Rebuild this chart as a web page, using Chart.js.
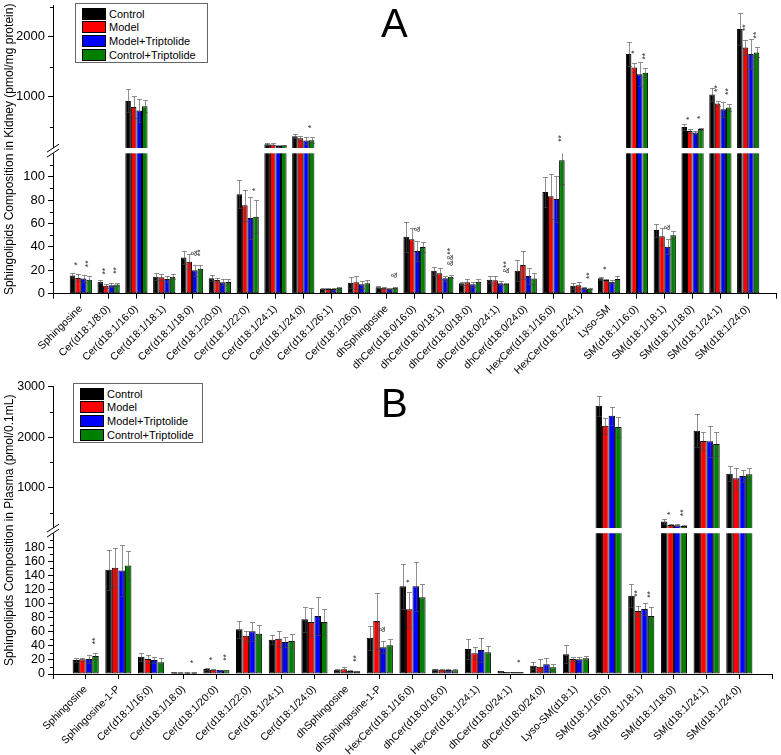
<!DOCTYPE html>
<html>
<head>
<meta charset="utf-8">
<script src="https://cdn.jsdelivr.net/npm/chart.js@4.4.0/dist/chart.umd.min.js"></script>
<style>
  body { margin: 0; background: #fff; font-family: Arial, "Liberation Sans", sans-serif; }
  #page { position: relative; width: 781px; height: 755px; overflow: hidden; }
  canvas { position: absolute; left: 0; }
  #chartA { top: 0; }
  #chartB { top: 375px; }
  .letter { position: absolute; font-size: 40px; line-height: 40px; color: #000; }
  .legend { position: absolute; border: 1px solid #666; background: #fff; box-sizing: border-box; }
  .legend .row { position: absolute; height: 13px; font-size: 11px; line-height: 13px; white-space: nowrap; color: #000; }
  .legend .sw { position: absolute; top: 0; left: 0; width: 24px; height: 12px; border: 1px solid #000; box-sizing: border-box; }
  .legend .txt { position: absolute; top: 0; }
</style>
</head>
<body>
<div id="page">
  <canvas id="chartA" width="781" height="375"></canvas>
  <canvas id="chartB" width="781" height="380"></canvas>
  <div class="letter" style="left:381px;top:3px">A</div>
  <div class="letter" style="left:381px;top:383px">B</div>
  <div class="legend" id="legendA" style="left:75px;top:3px;width:133px;height:60px"></div>
  <div class="legend" id="legendB" style="left:73px;top:383px;width:130px;height:60px"></div>
</div>
<script>
const seriesNames = ['Control', 'Model', 'Model+Triptolide', 'Control+Triptolide'];
const seriesColors = ['#000000', '#ff0000', '#0000ff', '#008000'];

// ---- panel A : kidney (pmol/mg protein)
const categoriesA = ['Sphingosine', 'Cer(d18:1/8:0)', 'Cer(d18:1/16:0)', 'Cer(d18:1/18:1)', 'Cer(d18:1/18:0)',
  'Cer(d18:1/20:0)', 'Cer(d18:1/22:0)', 'Cer(d18:1/24:1)', 'Cer(d18:1/24:0)', 'Cer(d18:1/26:1)', 'Cer(d18:1/26:0)',
  'dhSphingosine', 'dhCer(d18:0/16:0)', 'dhCer(d18:0/18:1)', 'dhCer(d18:0/18:0)', 'dhCer(d18:0/24:1)',
  'dhCer(d18:0/24:0)', 'HexCer(d18:1/16:0)', 'HexCer(d18:1/24:1)', 'Lyso-SM', 'SM(d18:1/16:0)',
  'SM(d18:1/18:1)', 'SM(d18:1/18:0)', 'SM(d18:1/24:1)', 'SM(d18:1/24:0)'];
const controlA     = [15.5, 10.3, 933, 14.5, 31, 13.1, 85, 212, 345, 4.3, 9.4, 5.5, 48.7, 19.7, 8.9, 12, 19.7, 87, 6.9, 13.1, 1712, 54.4, 500, 1039, 2128];
const modelA       = [13.5, 6.9, 833, 14, 27.4, 11.7, 75.5, 210, 312, 4, 9.7, 5, 46.5, 17.4, 9.7, 11.4, 24.5, 83.2, 7.2, 11.7, 1490, 49, 433, 889, 1823];
const modelTripA   = [13, 7.2, 773, 12.5, 20, 9.7, 64.7, 185, 273, 4, 8, 4.3, 36.5, 13.1, 8, 9, 15.1, 81, 5, 10.3, 1378, 40.2, 407, 795, 1712];
const controlTripA = [12, 7.8, 845, 14.5, 21.4, 10, 65.8, 195, 278, 5, 9, 5, 40, 14.5, 10.3, 8.5, 13, 114, 4.3, 12.5, 1400, 50, 467, 823, 1740];
const controlErrA     = [2.5, 1.2, 190, 3, 5.5, 2.6, 12, 20, 33, 0.7, 4.6, 0.8, 13, 3.3, 1.5, 3, 8.8, 12.5, 2.6, 1, 205, 5.6, 56, 111, 262];
const modelErrA       = [3, 1.8, 180, 2.5, 6.3, 2, 13.5, 15, 38, 0.7, 5.4, 0.6, 10, 4.6, 2.6, 4.1, 12, 19, 3.1, 1, 77, 7, 34, 44, 122];
const modelTripErrA   = [3, 1.8, 190, 2.5, 4.5, 2.5, 18, 12, 60, 0.7, 3, 0.7, 8.5, 2, 2, 1.5, 6.9, 20, 0.8, 1.5, 195, 6.3, 25, 122, 244];
const controlTripErrA = [3, 1.6, 100, 2, 3, 2.3, 14, 12, 50, 0.6, 2.4, 0.8, 4, 1.5, 2, 1, 5, 20, 0.5, 2.5, 73, 3.6, 16, 60, 83];
const yMajorA = [0, 20, 40, 60, 80, 100, 1000, 2000];
const yMinorA = [10, 30, 50, 70, 90, 110, 500, 1500, 2500];
const notesA = [
  ['Sphingosine', 1, '*'], ['Sphingosine', 3, '**'], ['Cer(d18:1/8:0)', 1, '**'], ['Cer(d18:1/8:0)', 3, '**'],
  ['Cer(d18:1/18:0)', 2, '&'], ['Cer(d18:1/18:0)', 3, '**'], ['Cer(d18:1/22:0)', 3, '*'], ['Cer(d18:1/24:0)', 3, '*'],
  ['dhSphingosine', 3, '&'], ['dhCer(d18:0/16:0)', 2, '&'], ['dhCer(d18:0/18:1)', 3, '&&**'],
  ['dhCer(d18:0/24:1)', 3, '&**'], ['HexCer(d18:1/16:0)', 3, '**'], ['HexCer(d18:1/24:1)', 3, '**'],
  ['Lyso-SM', 1, '*'], ['SM(d18:1/16:0)', 1, '*'], ['SM(d18:1/16:0)', 3, '**'], ['SM(d18:1/18:1)', 2, '&'],
  ['SM(d18:1/18:0)', 1, '*'], ['SM(d18:1/18:0)', 3, '*'], ['SM(d18:1/24:1)', 1, '**'], ['SM(d18:1/24:1)', 3, '**'],
  ['SM(d18:1/24:0)', 1, '**'], ['SM(d18:1/24:0)', 3, '**']
];

// ---- panel B : plasma (pmol/0.1mL)
const categoriesB = ['Sphingosine', 'Sphingosine-1-P', 'Cer(d18:1/16:0)', 'Cer(d18:1/18:0)', 'Cer(d18:1/20:0)',
  'Cer(d18:1/22:0)', 'Cer(d18:1/24:1)', 'Cer(d18:1/24:0)', 'dhSphingosine', 'dhSphingosine-1-P',
  'HexCer(d18:1/16:0)', 'dhCer(d18:0/16:0)', 'HexCer(d18:1/24:1)', 'dhCer(d18:0/24:1)', 'dhCer(d18:0/24:0)',
  'Lyso-SM(d18:1)', 'SM(d18:1/16:0)', 'SM(d18:1/18:1)', 'SM(d18:1/18:0)', 'SM(d18:1/24:1)', 'SM(d18:1/24:0)'];
const controlB     = [19.9, 148, 24.6, 2.5, 7.1, 63.4, 48.8, 77.7, 6.2, 51.6, 124.5, 6.6, 35.5, 4.3, 11.8, 27.9, 2624, 111.3, 327, 2129, 1277];
const modelB       = [20.8, 151, 21.3, 2.3, 6.2, 54.5, 50.2, 73.9, 6.6, 75.3, 91.9, 6.2, 29.4, 2.8, 10.4, 21.3, 2228, 89.5, 261, 1925, 1186];
const modelTripB   = [21.3, 147, 19.9, 2.2, 5.7, 60.6, 45.5, 82.4, 4.3, 37.9, 124.5, 5.7, 34.1, 2.8, 13.7, 20.8, 2426, 92.3, 255, 1919, 1232];
const controlTripB = [25.6, 154, 16.6, 2, 5.5, 57.3, 46.9, 73.9, 3.8, 40.7, 108.9, 5.2, 30.8, 2.8, 9.5, 22.3, 2202, 82.4, 242, 1865, 1265];
const controlErrB     = [2.4, 28, 5.7, 0.6, 0.8, 11.9, 6.2, 17.9, 1, 17.1, 31.8, 1, 13.7, 0.5, 5.2, 12.8, 198, 16.1, 53, 324, 153];
const modelErrB       = [2.4, 28, 5.7, 0.5, 0.6, 7, 11.3, 20.3, 3.8, 39.3, 25.1, 1, 8.5, 0.5, 11.4, 3.3, 158, 7.5, 17, 184, 210];
const modelTripErrB   = [5.7, 36, 4.7, 0.4, 0.6, 13.3, 6.5, 27.6, 1, 8.5, 35.1, 0.8, 17.5, 0.5, 8.6, 3.8, 178, 8.1, 15, 309, 113];
const controlTripErrB = [3.8, 21, 5.7, 0.4, 0.5, 11.8, 9.4, 18, 0.8, 8.5, 18.5, 1.8, 8.5, 0.5, 4.2, 2.8, 204, 13.2, 15, 244, 131];
const yMajorB = [0, 20, 40, 60, 80, 100, 120, 140, 160, 180, 1000, 2000, 3000];
const yMinorB = [10, 30, 50, 70, 90, 110, 130, 150, 170, 190, 500, 1500, 2500];
const notesB = [
  ['Sphingosine', 3, '**'], ['Cer(d18:1/18:0)', 3, '*'], ['Cer(d18:1/20:0)', 1, '*'], ['Cer(d18:1/20:0)', 3, '**'],
  ['dhSphingosine', 3, '**'], ['dhSphingosine-1-P', 2, '&'], ['HexCer(d18:1/16:0)', 1, '*'],
  ['dhCer(d18:0/24:1)', 3, '*'], ['SM(d18:1/18:1)', 1, '**'], ['SM(d18:1/18:1)', 3, '**'],
  ['SM(d18:1/18:0)', 1, '*'], ['SM(d18:1/18:0)', 3, '**']
];

// broken axis settings: lower part 0..lowMax, upper part upMin..upMax
const breaks = {
  chartA: { lowMax: 120, upMin: 150, upMax: 2528, split: 0.4863, gap: 5.3 },
  chartB: { lowMax: 200, upMin: 200, upMax: 3000, split: 0.490, gap: 5.2 }
};

Chart.defaults.font.family = 'Arial, "Liberation Sans", sans-serif';
Chart.defaults.color = '#000';

class BrokenScale extends Chart.LinearScale {
  _brk() {
    const b = breaks[this.chart.canvas.id];
    const lowTop = this.bottom - (this.bottom - this.top) * b.split;
    return { b, lowTop, upBottom: lowTop - b.gap };
  }
  getPixelForValue(v) {
    if (v === null || v === undefined || isNaN(v)) return NaN;
    const { b, lowTop, upBottom } = this._brk();
    if (v <= b.lowMax) return this.bottom - v / b.lowMax * (this.bottom - lowTop);
    if (v >= b.upMin) return upBottom - (v - b.upMin) / (b.upMax - b.upMin) * (upBottom - this.top);
    return lowTop - (v - b.lowMax) / (b.upMin - b.lowMax) * (lowTop - upBottom);
  }
  getValueForPixel(p) {
    const { b, lowTop, upBottom } = this._brk();
    if (p >= lowTop) return (this.bottom - p) / (this.bottom - lowTop) * b.lowMax;
    if (p <= upBottom) return b.upMin + (upBottom - p) / (upBottom - this.top) * (b.upMax - b.upMin);
    return b.lowMax;
  }
}
BrokenScale.id = 'broken';
BrokenScale.defaults = Chart.LinearScale.defaults;
Chart.register(BrokenScale);

const extras = {};

const decoPlugin = {
  id: 'deco',
  afterDatasetsDraw(chart) {
    const ex = extras[chart.canvas.id];
    const ctx = chart.ctx;
    const ys = chart.scales.y;
    const area = chart.chartArea;

    // error bars
    ctx.save();
    ctx.beginPath();
    ctx.rect(area.left, area.top - 2, area.right - area.left, area.bottom - area.top + 2);
    ctx.clip();
    ctx.strokeStyle = 'rgba(70,70,70,0.6)';
    ctx.lineWidth = 1;
    ex.values.forEach((vals, i) => {
      const meta = chart.getDatasetMeta(i);
      vals.forEach((v, j) => {
        const bar = meta.data[j + 1];
        const e = ex.errs[i][j];
        const x = Math.round(bar.x) + 0.5;
        const t = Math.round(ys.getPixelForValue(v + e)) + 0.5;
        const b = Math.round(ys.getPixelForValue(Math.max(v - e, 0))) + 0.5;
        const hw = 2.5;
        ctx.beginPath();
        ctx.moveTo(x, t); ctx.lineTo(x, b);
        ctx.moveTo(x - hw, t); ctx.lineTo(x + hw, t);
        ctx.moveTo(x - hw, b); ctx.lineTo(x + hw, b);
        ctx.stroke();
      });
    });
    ctx.restore();

    // white band for the axis break
    const brk = breaks[chart.canvas.id];
    const lowTop = ys.getPixelForValue(brk.lowMax);
    const upBottom = lowTop - brk.gap;
    ctx.save();
    ctx.fillStyle = '#fff';
    ctx.fillRect(area.left - 1, upBottom, area.right - area.left + 2, lowTop - upBottom);
    ctx.strokeStyle = '#000';
    ctx.lineWidth = 1;
    const mid = (lowTop + upBottom) / 2;
    [-2.5, 2.5].forEach(d => {
      ctx.beginPath();
      ctx.moveTo(area.left - 6, mid + 4 + d);
      ctx.lineTo(area.left + 6, mid - 4 + d);
      ctx.stroke();
    });

    // minor ticks
    ex.minors.forEach(v => {
      const p = Math.round(ys.getPixelForValue(v)) + 0.5;
      ctx.beginPath();
      ctx.moveTo(area.left - 3, p);
      ctx.lineTo(area.left, p);
      ctx.stroke();
    });

    // significance marks, written upwards above the error bar
    ctx.fillStyle = '#333';
    ctx.font = '8.5px Arial, "Liberation Sans", sans-serif';
    ctx.textAlign = 'left';
    ctx.textBaseline = 'middle';
    ex.notes.forEach(([cat, si, txt]) => {
      const j = ex.cats.indexOf(cat);
      const bar = chart.getDatasetMeta(si).data[j + 1];
      const top = ys.getPixelForValue(ex.values[si][j] + ex.errs[si][j]);
      ctx.save();
      ctx.translate(bar.x, top - 9);
      ctx.rotate(-Math.PI / 2);
      ctx.fillText(txt, 0, 0);
      ctx.restore();
    });
    ctx.restore();
  }
};

function makeChart(id, cats, values, errs, majors, minors, notes, title, cfg) {
  extras[id] = { cats, values, errs, minors, notes };
  const labels = ['', ...cats, ''];
  const datasets = seriesNames.map((name, i) => ({
    label: name,
    data: [null, ...values[i], null],
    backgroundColor: seriesColors[i],
    borderColor: '#000',
    borderWidth: 1,
    borderSkipped: false,
    categoryPercentage: 0.8,
    barPercentage: 1.0
  }));
  return new Chart(document.getElementById(id), {
    type: 'bar',
    data: { labels, datasets },
    plugins: [decoPlugin],
    options: {
      responsive: false,
      animation: false,
      layout: { padding: { top: cfg.padTop, right: cfg.padRight, left: 0, bottom: 0 } },
      plugins: { legend: { display: false }, tooltip: { enabled: false } },
      scales: {
        x: {
          offset: false,
          grid: { display: true, drawOnChartArea: false, offset: false, tickLength: 5, color: '#000' },
          border: { color: '#000', width: 1 },
          ticks: { autoSkip: false, maxRotation: 45, minRotation: 45, padding: 4, font: { size: cfg.xFont } },
          afterFit: s => { s.height = cfg.xHeight; s.paddingLeft = 0; s.paddingRight = 0; }
        },
        y: {
          type: 'broken',
          min: 0,
          max: breaks[id].upMax,
          grid: { display: true, drawOnChartArea: false, tickLength: 5, color: '#000' },
          border: { color: '#000', width: 1 },
          ticks: { autoSkip: false, padding: 3, font: { size: cfg.yFont }, callback: v => String(v) },
          title: { display: true, text: title, font: { size: cfg.titleFont }, padding: { top: 2, bottom: 0 } },
          afterBuildTicks: s => { s.ticks = majors.map(v => ({ value: v })); },
          afterFit: s => { s.width = 53; s.paddingTop = 0; s.paddingBottom = 0; }
        }
      }
    }
  });
}

function makeLegend(id) {
  const box = document.getElementById(id);
  seriesNames.forEach((name, i) => {
    const row = document.createElement('div');
    row.className = 'row';
    row.style.left = '6px';
    row.style.top = (3.5 + i * 13.8) + 'px';
    row.innerHTML = '<span class="sw" style="background:' + seriesColors[i] + '"></span><span class="txt" style="left:27px">' + name + '</span>';
    box.appendChild(row);
  });
}

makeChart('chartA', categoriesA,
  [controlA, modelA, modelTripA, controlTripA],
  [controlErrA, modelErrA, modelTripErrA, controlTripErrA],
  yMajorA, yMinorA, notesA,
  'Sphingolipids Composition in Kidney (pmol/mg protein)',
  { padTop: 5, padRight: 5, xHeight: 81.3, xFont: 10.5, yFont: 13, titleFont: 12 });

makeChart('chartB', categoriesB,
  [controlB, modelB, modelTripB, controlTripB],
  [controlErrB, modelErrB, modelTripErrB, controlTripErrB],
  yMajorB, yMinorB, notesB,
  'Sphingolipids Composition in Plasma (pmol/0.1mL)',
  { padTop: 11.7, padRight: 9, xHeight: 81, xFont: 10.5, yFont: 12.5, titleFont: 12 });

makeLegend('legendA');
makeLegend('legendB');
</script>
</body>
</html>
